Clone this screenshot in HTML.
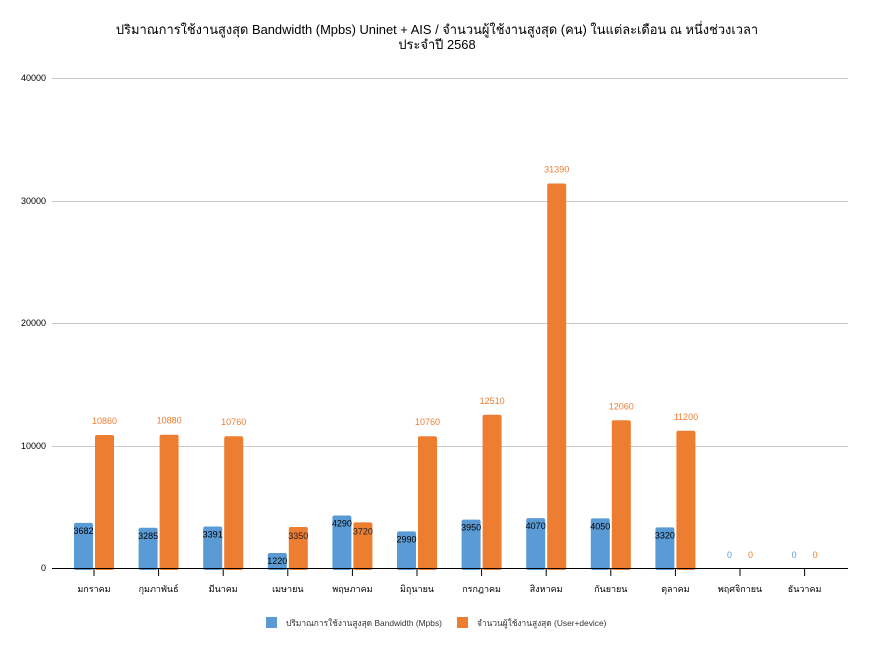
<!DOCTYPE html>
<html><head><meta charset="utf-8"><style>
body{margin:0;background:#fff}
text{font-family:"Liberation Sans","Noto Sans CJK SC",sans-serif}
</style></head><body>
<svg width="874" height="656" xmlns="http://www.w3.org/2000/svg">
<rect width="874" height="656" fill="#fff"/>
<text x="437" y="34" font-size="12.9" text-anchor="middle" fill="#000">ปริมาณการใช้งานสูงสุด Bandwidth (Mpbs) Uninet + AIS / จำนวนผู้ใช้งานสูงสุด (คน) ในแต่ละเดือน ณ หนึ่งช่วงเวลา</text>
<text x="437" y="49" font-size="12.9" text-anchor="middle" fill="#000">ประจำปี 2568</text>
<g stroke="#c8c8c8" stroke-width="1">
<line x1="52" y1="78.5" x2="848" y2="78.5"/>
<line x1="52" y1="201.5" x2="848" y2="201.5"/>
<line x1="52" y1="323.5" x2="848" y2="323.5"/>
<line x1="52" y1="446.5" x2="848" y2="446.5"/>
</g>
<g font-size="9" fill="#000" text-anchor="end">
<text x="46" y="81">40000</text>
<text x="46" y="204">30000</text>
<text x="46" y="326">20000</text>
<text x="46" y="449">10000</text>
<text x="46" y="571">0</text>
</g>
<g id="bars"></g>
<line x1="52" y1="568.5" x2="848" y2="568.5" stroke="#000" stroke-width="1"/>
<g id="ticks"></g>
<rect x="266" y="617" width="11" height="11" fill="#5b9bd5"/>
<text x="286" y="626" font-size="8.4" fill="#333">ปริมาณการใช้งานสูงสุด Bandwidth (Mpbs)</text>
<rect x="457" y="617" width="11" height="11" fill="#ed7d31"/>
<text x="477" y="626" font-size="8.4" fill="#333">จำนวนผู้ใช้งานสูงสุด (User+device)</text>
</svg>
<script>
var m=["มกราคม","กุมภาพันธ์","มีนาคม","เมษายน","พฤษภาคม","มิถุนายน","กรกฎาคม","สิงหาคม","กันยายน","ตุลาคม","พฤศจิกายน","ธันวาคม"];
var b=[3682,3285,3391,1220,4290,2990,3950,4070,4050,3320,0,0];
var o=[10860,10880,10760,3350,3720,10760,12510,31390,12060,11200,0,0];
var ns="http://www.w3.org/2000/svg",g=document.getElementById("bars"),t=document.getElementById("ticks");
function el(p,n,a,tx){var e=document.createElementNS(ns,n);for(var k in a)e.setAttribute(k,a[k]);if(tx!==undefined)e.textContent=tx;p.appendChild(e);return e;}
function Y(v){return 568-v*0.01225;}
for(var i=0;i<12;i++){var c=94+64.6*i;
 el(t,"line",{x1:c,y1:568,x2:c,y2:576,stroke:"#000","stroke-width":1});
 el(t,"text",{x:c,y:592,"font-size":9,"text-anchor":"middle",fill:"#000"},m[i]);
 if(b[i]>0){var y=Y(b[i]);el(g,"rect",{x:c-20,y:y,width:19,height:568-y+2,rx:2,fill:"#5b9bd5"});
  el(g,"text",{x:c-10.5,y:y+11,"font-size":9,"text-anchor":"middle",fill:"#000"},b[i]);}
 else el(g,"text",{x:c-10.5,y:558,"font-size":9,"text-anchor":"middle",fill:"#5b9bd5"},"0");
 if(o[i]>0){var y2=Y(o[i]);el(g,"rect",{x:c+1,y:y2,width:19,height:568-y2+2,rx:2,fill:"#ed7d31"});
  if(o[i]>5000)el(g,"text",{x:c+10.5,y:y2-11,"font-size":9,"text-anchor":"middle",fill:"#ed7d31"},o[i]);
  else el(g,"text",{x:c+10.5,y:y2+12,"font-size":9,"text-anchor":"middle",fill:"#222"},o[i]);}
 else el(g,"text",{x:c+10.5,y:558,"font-size":9,"text-anchor":"middle",fill:"#ed7d31"},"0");
}
</script>
</body></html>
